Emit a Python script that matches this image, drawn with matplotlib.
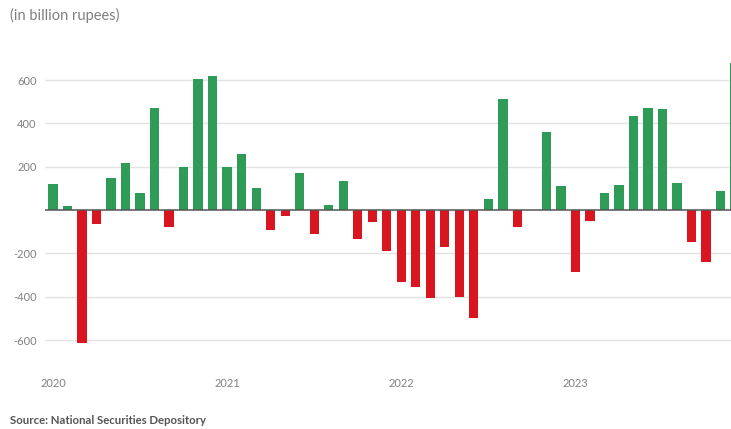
import matplotlib
matplotlib.use("Agg")
import matplotlib.pyplot as plt
import pandas as pd

# Data
months = pd.period_range("2020-01", "2023-12", freq="M").strftime("%Y-%m").tolist()
values = [120, 20, -615, -65, 147, 218, 77, 472, -77, 197, 603, 620,
          197, 257, 103, -92, -26, 172, -111, 22, 132, -134, -57, -189,
          -334, -354, -408, -169, -400, -500, 49, 512, -77, 0, 362, 111,
          -285, -51, 80, 115, 435, 469, 465, 123, -146, -241, 88, 680]
year_labels = ["2020", "2021", "2022", "2023"]
y_ticks = [-600, -400, -200, 200, 400, 600]

GREEN = "#2e9b57"
RED = "#d9161f"

plt.rcParams["font.family"] = ["Lato", "DejaVu Sans"]

fig = plt.figure(figsize=(7.31, 4.29), dpi=100)
ax = fig.add_axes([45 / 731, 1 - 361.7 / 429, 686 / 731, (361.7 - 54) / 429])

x = list(range(len(months)))
colors = [GREEN if v >= 0 else RED for v in values]
ax.bar(x, values, width=0.64, color=colors, zorder=3)

ax.set_xlim(-0.55, 46.72)
ax.set_ylim(-700, 720)

for t in y_ticks:
    ax.axhline(t, color="#e3e3e3", lw=1, zorder=1)
ax.axhline(0, color="#555555", lw=1.1, zorder=4)

ax.set_yticks(y_ticks)
ax.set_yticklabels([str(t) for t in y_ticks])
jan_pos = [i for i, m in enumerate(months) if m.endswith("-01")]
ax.set_xticks(jan_pos)
ax.set_xticklabels(year_labels)
ax.tick_params(axis="both", length=0, labelsize=8, labelcolor="#808080")
ax.tick_params(axis="y", pad=6)
ax.tick_params(axis="x", pad=12)

for s in ax.spines.values():
    s.set_visible(False)

fig.text(10 / 731, 1 - 15 / 429, "(in billion rupees)", fontsize=10.5,
         color="#808080", va="center", ha="left")
fig.text(10 / 731, 1 - 421 / 429, "Source: National Securities Depository",
         fontsize=8.2, color="#555555", fontweight="bold", va="center", ha="left")

fig.savefig("out.png", dpi=100)
